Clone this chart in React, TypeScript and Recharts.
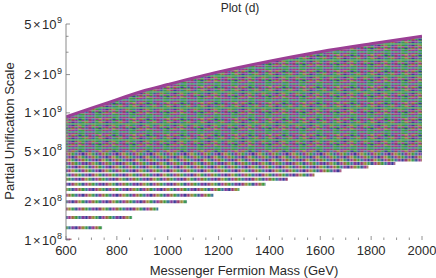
import React from "react";
import { ComposedChart, Area, Line, XAxis, YAxis } from "recharts";

const W = 436;
const H = 278;

// top edge of the point cloud, read along the frame
const ENVELOPE_MASS = [600, 700, 800, 900, 1000, 1200, 1400, 1600, 1800, 2000];
const ENVELOPE_SCALE = [9.3e8, 1.09e9, 1.27e9, 1.48e9, 1.67e9, 2.1e9, 2.55e9, 3.03e9, 3.5e9, 4.0e9];
// below this the rows are drawn one by one
const CLOUD_FLOOR = 4.87e8;

// separate horizontal rows of points at the bottom, and where each one stops
const ROW_SCALE = [1.0e8, 1.25e8, 1.5e8, 1.75e8, 2.0e8, 2.25e8, 2.5e8, 2.75e8, 3.0e8, 3.25e8, 3.5e8, 3.75e8, 4.0e8, 4.25e8, 4.5e8, 4.75e8];
const ROW_START_MASS = 600;
const ROW_END_MASS = [622, 742, 860, 963, 1076, 1180, 1282, 1385, 1472, 1577, 1683, 1789, 1895, 2000, 2000, 2000];

const X_MAJOR = [600, 800, 1000, 1200, 1400, 1600, 1800, 2000];
const X_TICKS = [600, 650, 700, 750, 800, 850, 900, 950, 1000, 1050, 1100, 1150, 1200, 1250, 1300, 1350, 1400, 1450, 1500, 1550, 1600, 1650, 1700, 1750, 1800, 1850, 1900, 1950, 2000];
const Y_MAJOR = [1e8, 2e8, 5e8, 1e9, 2e9, 5e9];
const Y_TICKS = [1e8, 2e8, 3e8, 4e8, 5e8, 6e8, 7e8, 8e8, 9e8, 1e9, 2e9, 3e9, 4e9, 5e9];

// Mathematica-style point colours (hue stepping, s=v=0.6)
const PALETTE = ["#3F3D99", "#993D71", "#998B3D", "#3D9956", "#3D5A99", "#993D90", "#996C3D", "#43993D", "#3D7899", "#833D99"];
const TOP_COLOR = "#9B3F95";
const TICK = "#777";
const TEXT = "#2a2a2a";
const FONT = "'Liberation Sans', Arial, Helvetica, sans-serif";

const STEP = 3.4; // horizontal spacing of the points, px
const CELL_H = 1.6;
const DOT = 3;

const cloud = ENVELOPE_MASS.map((m, i) => ({ mass: m, band: [CLOUD_FLOOR, ENVELOPE_SCALE[i]], top: ENVELOPE_SCALE[i] }));

// texture only: which palette colour sits in each cell of the repeating tile
const cellColour = (c: number, r: number) => PALETTE[(3 * c + 7 * r * r + c * r) % PALETTE.length];

function BottomTick(props: any) {
  const { x, y, payload } = props;
  const major = X_MAJOR.includes(payload.value);
  return (
    <g>
      <line x1={x} x2={x} y1={y} y2={y - (major ? 4 : 2.5)} stroke={TICK} strokeWidth={0.8} />
      {major && (
        <text x={x} y={y + 15} textAnchor="middle" fontSize={13} fontFamily={FONT} fill={TEXT}>
          {payload.value}
        </text>
      )}
    </g>
  );
}

function TopTick(props: any) {
  const { x, y, payload } = props;
  const major = X_MAJOR.includes(payload.value);
  return <line x1={x} x2={x} y1={y} y2={y + (major ? 4 : 2.5)} stroke={TICK} strokeWidth={0.8} />;
}

function LeftTick(props: any) {
  const { x, y, payload } = props;
  const v = payload.value;
  const major = Y_MAJOR.some((m) => Math.abs(m - v) / m < 1e-6);
  const exp = Math.floor(Math.log10(v) + 1e-9);
  const mant = Math.round(v / Math.pow(10, exp));
  return (
    <g>
      <line x1={x} x2={x + (major ? 4 : 2.5)} y1={y} y2={y} stroke={TICK} strokeWidth={0.8} />
      {major && (
        <text x={x - 4} y={y + 4.5} textAnchor="end" fontSize={13} fontFamily={FONT} fill={TEXT}>
          <tspan>{mant}</tspan>
          <tspan dx={1.5}>×</tspan>
          <tspan dx={1.5}>10</tspan>
          <tspan dx={0.5} dy={-5.5} fontSize={9}>{exp}</tspan>
        </text>
      )}
    </g>
  );
}

function RightTick(props: any) {
  const { x, y, payload } = props;
  const major = Y_MAJOR.some((m) => Math.abs(m - payload.value) / m < 1e-6);
  return <line x1={x} x2={x - (major ? 4 : 2.5)} y1={y} y2={y} stroke={TICK} strokeWidth={0.8} />;
}

export default function App() {
  return (
    <div style={{ position: "absolute", left: 0, top: 0, width: W, height: H, background: "#fff" }}>
      <ComposedChart width={W} height={H} margin={{ top: 24, right: 14, bottom: 0, left: 0 }}>
        <defs>
          <pattern id="cloud" patternUnits="userSpaceOnUse" x={64.5} y={0} width={STEP * 10} height={CELL_H * 10}>
            {PALETTE.map((_, r) =>
              PALETTE.map((__, c) => (
                <rect key={`${r}-${c}`} x={c * STEP} y={r * CELL_H} width={STEP} height={CELL_H} fill={cellColour(c, r)} />
              ))
            )}
          </pattern>
          {ROW_SCALE.map((_, i) => (
            <pattern key={i} id={`row${i}`} patternUnits="userSpaceOnUse" x={64.5} y={0} width={STEP * 10} height={H}>
              {PALETTE.map((__, c) => (
                <rect key={c} x={c * STEP} y={0} width={DOT} height={H} fill={PALETTE[(c + 7 * i) % PALETTE.length]} />
              ))}
            </pattern>
          ))}
        </defs>
        <XAxis
          dataKey="mass"
          type="number"
          domain={[600, 2000]}
          ticks={X_TICKS}
          interval={0}
          height={38}
          axisLine={false}
          tickLine={false}
          tickSize={0}
          tickMargin={0}
          tick={<BottomTick />}
          allowDataOverflow
        />
        <XAxis
          xAxisId="top"
          orientation="top"
          dataKey="mass"
          type="number"
          domain={[600, 2000]}
          ticks={X_TICKS}
          interval={0}
          height={0}
          axisLine={false}
          tickLine={false}
          tickSize={0}
          tickMargin={0}
          tick={<TopTick />}
          allowDataOverflow
        />
        <YAxis
          type="number"
          scale="log"
          domain={[1e8, 5e9]}
          ticks={Y_TICKS}
          interval={0}
          width={66}
          axisLine={{ stroke: "#8a8a8a", strokeWidth: 1 }}
          tickLine={false}
          tickSize={0}
          tickMargin={0}
          tick={<LeftTick />}
          allowDataOverflow
        />
        <YAxis
          yAxisId="right"
          orientation="right"
          type="number"
          scale="log"
          domain={[1e8, 5e9]}
          ticks={Y_TICKS}
          interval={0}
          width={0}
          axisLine={false}
          tickLine={false}
          tickSize={0}
          tickMargin={0}
          tick={<RightTick />}
          allowDataOverflow
        />
        <Area
          data={cloud}
          dataKey="band"
          type="monotone"
          stroke="none"
          fill="url(#cloud)"
          fillOpacity={1}
          isAnimationActive={false}
        />
        {ROW_SCALE.map((s, i) => (
          <Line
            key={s}
            data={[
              { mass: ROW_START_MASS, v: s },
              { mass: ROW_END_MASS[i], v: s },
            ]}
            dataKey="v"
            type="linear"
            stroke={`url(#row${i})`}
            strokeWidth={DOT}
            dot={false}
            activeDot={false}
            isAnimationActive={false}
          />
        ))}
        <Line
          data={cloud}
          dataKey="top"
          type="monotone"
          stroke={TOP_COLOR}
          strokeWidth={3}
          dot={false}
          activeDot={false}
          isAnimationActive={false}
        />
      </ComposedChart>
      <svg width={W} height={H} style={{ position: "absolute", left: 0, top: 0, pointerEvents: "none" }}>
        <text x={240} y={12} textAnchor="middle" fontSize={12} fontFamily={FONT} fill={TEXT}>
          Plot (d)
        </text>
        <text x={244} y={275} textAnchor="middle" fontSize={13} fontFamily={FONT} fill={TEXT}>
          Messenger Fermion Mass (GeV)
        </text>
        <text
          x={14}
          y={131}
          textAnchor="middle"
          fontSize={13}
          fontFamily={FONT}
          fill={TEXT}
          transform="rotate(-90 14 131)"
        >
          Partial Unification Scale
        </text>
      </svg>
    </div>
  );
}
